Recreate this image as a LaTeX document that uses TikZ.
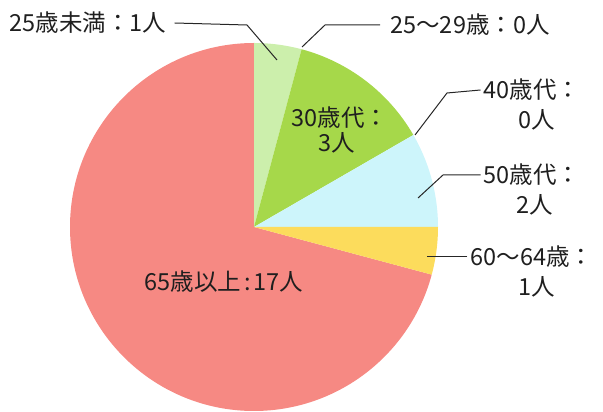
\documentclass[tikz,border=0pt]{standalone}
\usepackage{fontspec}
\setmainfont{Noto Sans CJK JP}
\begin{document}
\begin{tikzpicture}[x=1pt,y=1pt,
  lbl/.style={inner sep=0pt, font=\fontsize{23.5}{30}\selectfont, text=black!88},
  lead/.style={draw=black!85, line width=1pt},
  slice/.style={draw=none}]
\useasboundingbox (0,0) rectangle (603,412);
\definecolor{cRed}{RGB}{246,137,131}
\definecolor{cLGreen}{RGB}{204,239,172}
\definecolor{cGreen}{RGB}{166,216,74}
\definecolor{cBlue}{RGB}{205,245,251}
\definecolor{cYellow}{RGB}{252,220,92}
\coordinate (c) at (254,185);
\def\R{184}
% slices
\fill[cRed]    (c) -- ++(90:\R)  arc[start angle=90,  end angle=345, radius=\R] -- cycle;
\fill[cLGreen] (c) -- ++(75:\R)  arc[start angle=75,  end angle=90,  radius=\R] -- cycle;
\fill[cGreen]  (c) -- ++(30:\R)  arc[start angle=30,  end angle=75,  radius=\R] -- cycle;
\fill[cBlue]   (c) -- ++(0:\R)   arc[start angle=0,   end angle=30,  radius=\R] -- cycle;
\fill[cYellow] (c) -- ++(-15:\R) arc[start angle=-15, end angle=0,   radius=\R] -- cycle;
% labels
\node[lbl] (l1) at (88,389) {25歳未満：1人};
\node[lbl] (l2) at (470,387) {25～29歳：0人};
\node[lbl] (l3a) at (532,322) {40歳代：};
\node[lbl] (l3b) at (537,292) {0人};
\node[lbl] (l4a) at (532,237) {50歳代：};
\node[lbl] (l4b) at (535,207) {2人};
\node[lbl] (l5a) at (532,155) {60～64歳：};
\node[lbl] (l5b) at (537,125) {1人};
\node[lbl] (l6a) at (340,294) {30歳代：};
\node[lbl] (l6b) at (337,269) {3人};
\node[lbl] (l7) at (224,130) {65歳以上\hspace{3pt}:\hspace{3pt}17人};
% leader points
\coordinate (b1) at (247,387);
\coordinate (e1) at (277,352);
\coordinate (b2) at (325,387);
\coordinate (e2) at (302,365);
\coordinate (b3) at (447,319);
\coordinate (e3) at (415,277);
\coordinate (b4) at (443,237);
\coordinate (e4) at (418,214);
\coordinate (e5) at (427,155);
\draw[lead] ([xshift=8pt]l1.east) -- (b1) -- (e1);
\draw[lead] ([xshift=-10pt]l2.west) -- (b2) -- (e2);
\draw[lead] ([xshift=-3pt]l3a.west) -- (b3) -- (e3);
\draw[lead] ([xshift=-3pt]l4a.west) -- (b4) -- (e4);
\draw[lead] ([xshift=-3pt]l5a.west) -- (e5);
\end{tikzpicture}
\end{document}
